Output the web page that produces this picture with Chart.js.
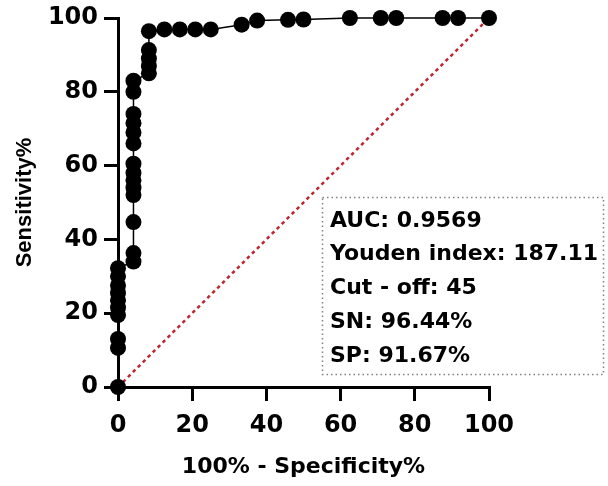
<!DOCTYPE html>
<html>
<head>
<meta charset="utf-8">
<script src="https://cdn.jsdelivr.net/npm/chart.js@4.4.1/dist/chart.umd.min.js"></script>
<style>
  html, body { margin: 0; padding: 0; background: #fff; }
  #wrap { width: 608px; height: 486px; }
</style>
</head>
<body>
<div id="wrap"><canvas id="roc"></canvas></div>
<script>
// ROC points: 100% - specificity (x) and sensitivity (y)
const fpr = [
  0, 0, 0, 0, 0, 0, 0, 0, 0, 0,
  4.17, 4.17, 4.17, 4.17, 4.17, 4.17, 4.17, 4.17, 4.17, 4.17, 4.17, 4.17, 4.17, 4.17,
  8.33, 8.33, 8.33, 8.33, 8.33,
  12.5, 16.67, 20.83, 25, 33.33, 37.5, 45.83, 50, 62.5, 70.83, 75, 87.5, 91.67, 100
]
const sensitivity = [
  0, 10.6, 13, 19.5, 21.5, 23.5, 25.5, 27.5, 30, 32.2,
  34, 36.3, 44.7, 52, 54, 56, 58, 60.5, 66, 69, 71.5, 74, 80, 83,
  85, 87, 89, 91.3, 96.44,
  96.9, 96.9, 96.9, 96.9, 98.2, 99.3, 99.5, 99.6, 100, 100, 100, 100, 100, 100
]
const refLine = [0, 100]
const xTicks = [0, 20, 40, 60, 80, 100]
const notes = ['AUC: 0.9569', 'Youden index: 187.11', 'Cut - off: 45', 'SN: 96.44%', 'SP: 91.67%']

const rocPoints = []
for (let i = 0; i <= fpr.length - 1; i++) {
  rocPoints.push({ x: fpr[i], y: sensitivity[i] })
}
const diag = refLine.map(v => ({ x: v, y: v }))

const bold = 'bold'
const wideFont = '"DejaVu Sans", sans-serif'

// dotted box with the summary text
const notesBox = {
  id: 'notesBox',
  afterDraw(chart) {
    const c = chart.ctx
    c.save()
    c.fillStyle = '#fff'
    c.fillRect(322, 197, 282, 178)
    c.strokeStyle = '#808080'
    c.lineWidth = 1.5
    c.setLineDash([1.5, 3])
    c.strokeRect(322.5, 197.5, 281, 177)
    c.setLineDash([])
    c.fillStyle = '#000'
    c.font = 'bold 22px ' + wideFont
    c.textBaseline = 'middle'
    for (let i = 0; i < notes.length; i++) {
      c.fillText(notes[i], 330, 221 + i * 33.7)
    }
    c.restore()
  }
}

new Chart(document.getElementById('roc'), {
  type: 'scatter',
  data: {
    datasets: [{
      data: rocPoints,
      showLine: true,
      borderColor: '#000',
      borderWidth: 1.5,
      backgroundColor: '#000',
      pointBackgroundColor: '#000',
      pointBorderWidth: 0,
      pointRadius: 8,
      clip: false,
      order: 1
    }, {
      data: diag,
      showLine: true,
      borderColor: '#bf2530',
      borderWidth: 2.5,
      borderDash: [3.5, 3.5],
      pointRadius: 0,
      clip: false,
      order: 2
    }]
  },
  options: {
    responsive: true,
    maintainAspectRatio: false,
    animation: false,
    layout: { padding: { left: 0, top: 17, right: 119, bottom: 0 } },
    plugins: {
      legend: { display: false },
      tooltip: { enabled: false }
    },
    scales: {
      x: {
        type: 'linear',
        min: 0,
        max: 100,
        afterFit: s => { s.height = 99 },
        afterBuildTicks: s => { s.ticks = xTicks.map(v => ({ value: v })) },
        border: { display: true, color: '#000', width: 3 },
        grid: { display: true, drawOnChartArea: false, drawTicks: true, tickLength: 14, lineWidth: 3, color: '#000' },
        ticks: { color: '#000', padding: 10, font: { family: wideFont, size: 24, weight: bold } },
        title: {
          display: true,
          text: '100% - Specificity%',
          color: '#000',
          padding: { top: 0, bottom: 6 },
          font: { family: wideFont, size: 22, weight: bold }
        }
      },
      y: {
        type: 'linear',
        min: 0,
        max: 100,
        afterFit: s => { s.width = 118 },
        ticks: { stepSize: 20, color: '#000', padding: 6, font: { family: wideFont, size: 24, weight: bold, lineHeight: 1 } },
        border: { display: true, color: '#000', width: 3 },
        grid: { display: true, drawOnChartArea: false, drawTicks: true, tickLength: 14, lineWidth: 3, color: '#000' },
        title: {
          display: true,
          text: 'Sensitivity%',
          color: '#000',
          padding: { top: 12, bottom: 0 },
          font: { family: '"Liberation Sans", Arial, sans-serif', size: 22, weight: bold }
        }
      }
    }
  },
  plugins: [notesBox]
});
</script>
</body>
</html>
